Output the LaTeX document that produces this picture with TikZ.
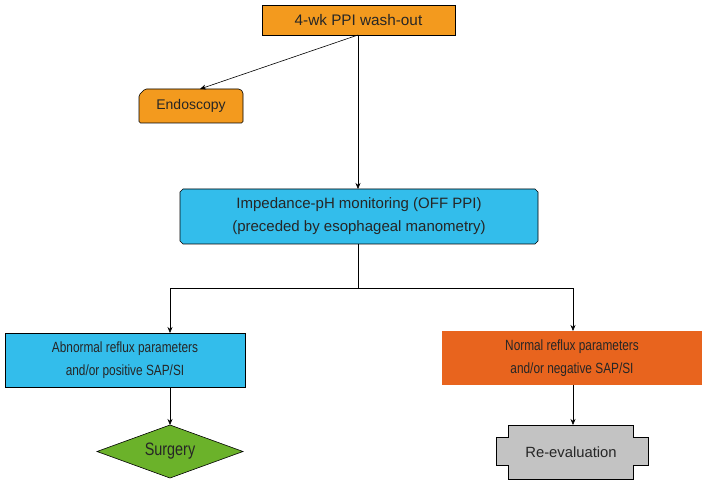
\documentclass[tikz,border=0pt]{standalone}
\usepackage{fontspec}
\setmainfont{Liberation Sans}
\newfontfamily\narrowf[FakeStretch=0.8]{Liberation Sans}
\usetikzlibrary{arrows.meta}
\definecolor{orA}{HTML}{F39A1E}
\definecolor{cyB}{HTML}{33BDEB}
\definecolor{orR}{HTML}{E8641E}
\definecolor{grS}{HTML}{6BB22A}
\definecolor{grY}{HTML}{C3C3C3}
\tikzset{
  conn/.style={draw=black, line width=0.6pt},
  arr/.style={conn, -{Stealth[length=6pt,width=5pt]}},
  lbl/.style={align=center, text=black!85, inner sep=0pt},
}
\begin{document}
\begin{tikzpicture}[x=1pt,y=-1pt]
\useasboundingbox (0,0) rectangle (709,486);
% top box
\draw[fill=orA, line width=0.6pt] (262,5) rectangle (455,35);
\node[lbl, font=\fontsize{15.3}{18}\selectfont] (top) at (358.5,20) {4-wk PPI wash-out};
\coordinate (topb) at (358,35);
% endoscopy
\draw[fill=orA, line width=0.6pt, rounded corners=1.5pt] (139,95) -- (145,89) -- (240,89) -- (243,92) -- (243,123) -- (139,123) -- cycle;
\node[lbl, font=\fontsize{14}{16}\selectfont] (endo) at (191,106) {Endoscopy};
\coordinate (endot) at (200,89);
% impedance
\draw[fill=cyB, line width=0.6pt] (183,189) -- (535,189) -- (538,192) -- (538,241) -- (535,244) -- (183,244) -- (180,241) -- (180,192) -- cycle;
\node[lbl, font=\fontsize{15}{23}\selectfont] (imp) at (359,216.5) {Impedance-pH monitoring (OFF PPI)\\(preceded by esophageal manometry)};
\coordinate (impt) at (358,189);
\coordinate (impb) at (358,244);
% left box
\draw[fill=cyB, line width=0.6pt] (5,333) rectangle (245,387);
\node[lbl, font=\narrowf\fontsize{14.8}{23}\selectfont] (abn) at (125,360) {Abnormal reflux parameters\\and/or positive SAP/SI};
% right box
\fill[orR] (442,331) rectangle (702,385);
\node[lbl, font=\narrowf\fontsize{14.8}{23}\selectfont] (nor) at (572,358) {Normal reflux parameters\\and/or negative SAP/SI};
% diamond
\draw[fill=grS, line width=0.6pt] (170,425) -- (243,451.5) -- (170,478) -- (97,451.5) -- cycle;
\node[lbl, font=\narrowf\fontsize{18}{20}\selectfont] (surg) at (170,451.5) {Surgery};
% re-evaluation
\draw[fill=grY, line width=0.6pt] (508,425) -- (633,425) -- (633,437) -- (648,437) -- (648,465) -- (633,465) -- (633,479) -- (508,479) -- (508,465) -- (496,465) -- (496,437) -- (508,437) -- cycle;
\node[lbl, font=\fontsize{14.8}{18}\selectfont] (reev) at (571,452) {Re-evaluation};
% connectors
\coordinate (split) at (358,288);
\coordinate (sl) at (170,288);
\coordinate (sr) at (573,288);
\draw[arr] (topb) -- (endot);
\draw[arr] (topb) -- (impt);
\draw[conn] (impb) -- (split);
\draw[conn] (sl) -- (sr);
\draw[arr] (sl) -- (170,333);
\draw[arr] (sr) -- (573,331);
\draw[arr] (170,387) -- (170,425);
\draw[arr] (573,385) -- (573,425);
\end{tikzpicture}
\end{document}
